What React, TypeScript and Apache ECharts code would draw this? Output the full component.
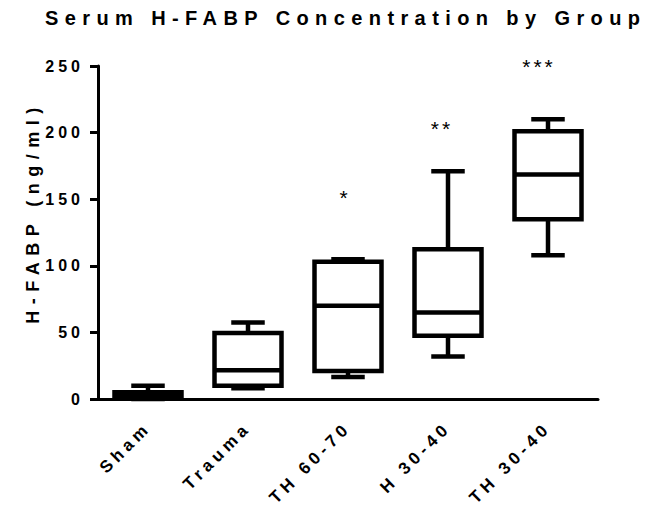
import React, { useEffect, useRef } from "react";
import * as echarts from "echarts";

// Five-number summaries per group (ng/ml)
const groups = ["Sham", "Trauma", "TH 60-70", "H 30-40", "TH 30-40"];
const lowWhisker = [0, 8, 16.5, 32, 108];
const lowerQuartile = [0.5, 10, 21, 47.5, 135];
const medians = [2, 21.5, 70, 65, 168.5];
const upperQuartile = [5, 49.5, 103, 112.5, 201];
const highWhisker = [10, 57.5, 105, 171, 210];

// Significance markers and the value level they sit at
const significance = ["", "", "*", "**", "***"];
const significanceLevel = [0, 0, 151, 203, 250];

const yMin = 0;
const yMax = 250;
const yInterval = 50;

const FONT = "'Liberation Sans', Arial, Helvetica, sans-serif";

// Wide letter spacing per text role (keyed by font size)
const spacingCss = `
.hfabp-chart text[style*="20px"] { letter-spacing: 6.4px; }
.hfabp-chart text[style*="18px"] { letter-spacing: 6.5px; }
.hfabp-chart text[style*="17px"] { letter-spacing: 4.5px; }
.hfabp-chart text[style*="16px"] { letter-spacing: 4px; }
.hfabp-chart text[style*="21px"] { letter-spacing: 3px; }
`;

export default function App() {
  const ref = useRef<HTMLDivElement>(null);

  useEffect(() => {
    if (!ref.current) return;
    const chart = echarts.init(ref.current, undefined, { renderer: "svg" });

    const data = groups.map((_, i) => [
      i,
      lowWhisker[i],
      lowerQuartile[i],
      medians[i],
      upperQuartile[i],
      highWhisker[i],
    ]);

    const stroke = { stroke: "#000", lineWidth: 4.5, fill: "none" };

    const renderItem = (params: any, api: any) => {
      const i = params.dataIndex;
      const x = api.value(0);
      const lo = api.coord([x, api.value(1)]);
      const q1 = api.coord([x, api.value(2)]);
      const med = api.coord([x, api.value(3)]);
      const q3 = api.coord([x, api.value(4)]);
      const hi = api.coord([x, api.value(5)]);
      const cx = lo[0];
      const band = api.size([1, 0])[0];
      const bw = band * 0.67;
      const cw = bw / 2;

      const children: any[] = [
        { type: "line", shape: { x1: cx, y1: q3[1], x2: cx, y2: hi[1] }, style: stroke },
        { type: "line", shape: { x1: cx, y1: q1[1], x2: cx, y2: lo[1] }, style: stroke },
        { type: "line", shape: { x1: cx - cw / 2, y1: hi[1], x2: cx + cw / 2, y2: hi[1] }, style: stroke },
        { type: "line", shape: { x1: cx - cw / 2, y1: lo[1], x2: cx + cw / 2, y2: lo[1] }, style: stroke },
        {
          type: "rect",
          shape: { x: cx - bw / 2, y: q3[1], width: bw, height: q1[1] - q3[1] },
          style: { stroke: "#000", lineWidth: 4.5, fill: "#fff" },
        },
        { type: "line", shape: { x1: cx - bw / 2, y1: med[1], x2: cx + bw / 2, y2: med[1] }, style: stroke },
      ];

      const mark = significance[i];
      if (mark) {
        const p = api.coord([x, significanceLevel[i]]);
        children.push({
          type: "text",
          x: p[0] - 3 * mark.length,
          y: p[1],
          style: {
            text: mark,
            align: "center",
            verticalAlign: "middle",
            fontFamily: FONT,
            fontSize: 21,
            fill: "#000",
          },
        });
      }
      return { type: "group", children };
    };

    const axisLineStyle = { color: "#000", width: 3 };

    chart.setOption({
      animation: false,
      backgroundColor: "#fff",
      title: {
        text: "Serum H-FABP Concentration by Group",
        left: 45,
        top: 8,
        padding: 0,
        textStyle: { fontFamily: FONT, fontSize: 20, fontWeight: "bold", color: "#000" },
      },
      grid: { left: 98, right: 52, top: 66, bottom: 107 },
      xAxis: {
        type: "category",
        data: groups,
        boundaryGap: true,
        axisLine: { lineStyle: axisLineStyle },
        axisTick: { alignWithLabel: true, length: 8, lineStyle: axisLineStyle },
        axisLabel: {
          rotate: 45,
          interval: 0,
          margin: 26,
          fontFamily: FONT,
          fontSize: 17,
          fontWeight: "bold",
          color: "#000",
        },
        splitLine: { show: false },
      },
      yAxis: {
        type: "value",
        min: yMin,
        max: yMax,
        interval: yInterval,
        name: "H-FABP (ng/ml)",
        nameLocation: "middle",
        nameGap: 56,
        nameTextStyle: {
          fontFamily: FONT,
          fontSize: 18,
          fontWeight: "bold",
          color: "#000",
          padding: [0, 0, 0, 40],
        },
        axisLine: { show: true, lineStyle: axisLineStyle },
        axisTick: { show: true, length: 8, lineStyle: axisLineStyle },
        axisLabel: { margin: 14, fontFamily: FONT, fontSize: 16, fontWeight: "bold", color: "#000" },
        splitLine: { show: false },
      },
      series: [
        {
          type: "custom",
          data,
          encode: { x: 0, y: [1, 2, 3, 4, 5] },
          renderItem,
          clip: false,
          z: 3,
        },
      ],
    });

    return () => chart.dispose();
  }, []);

  return (
    <>
      <style>{spacingCss}</style>
      <div
        ref={ref}
        className="hfabp-chart"
        style={{ position: "fixed", left: 0, top: 0, width: 650, height: 506 }}
      />
    </>
  );
}
